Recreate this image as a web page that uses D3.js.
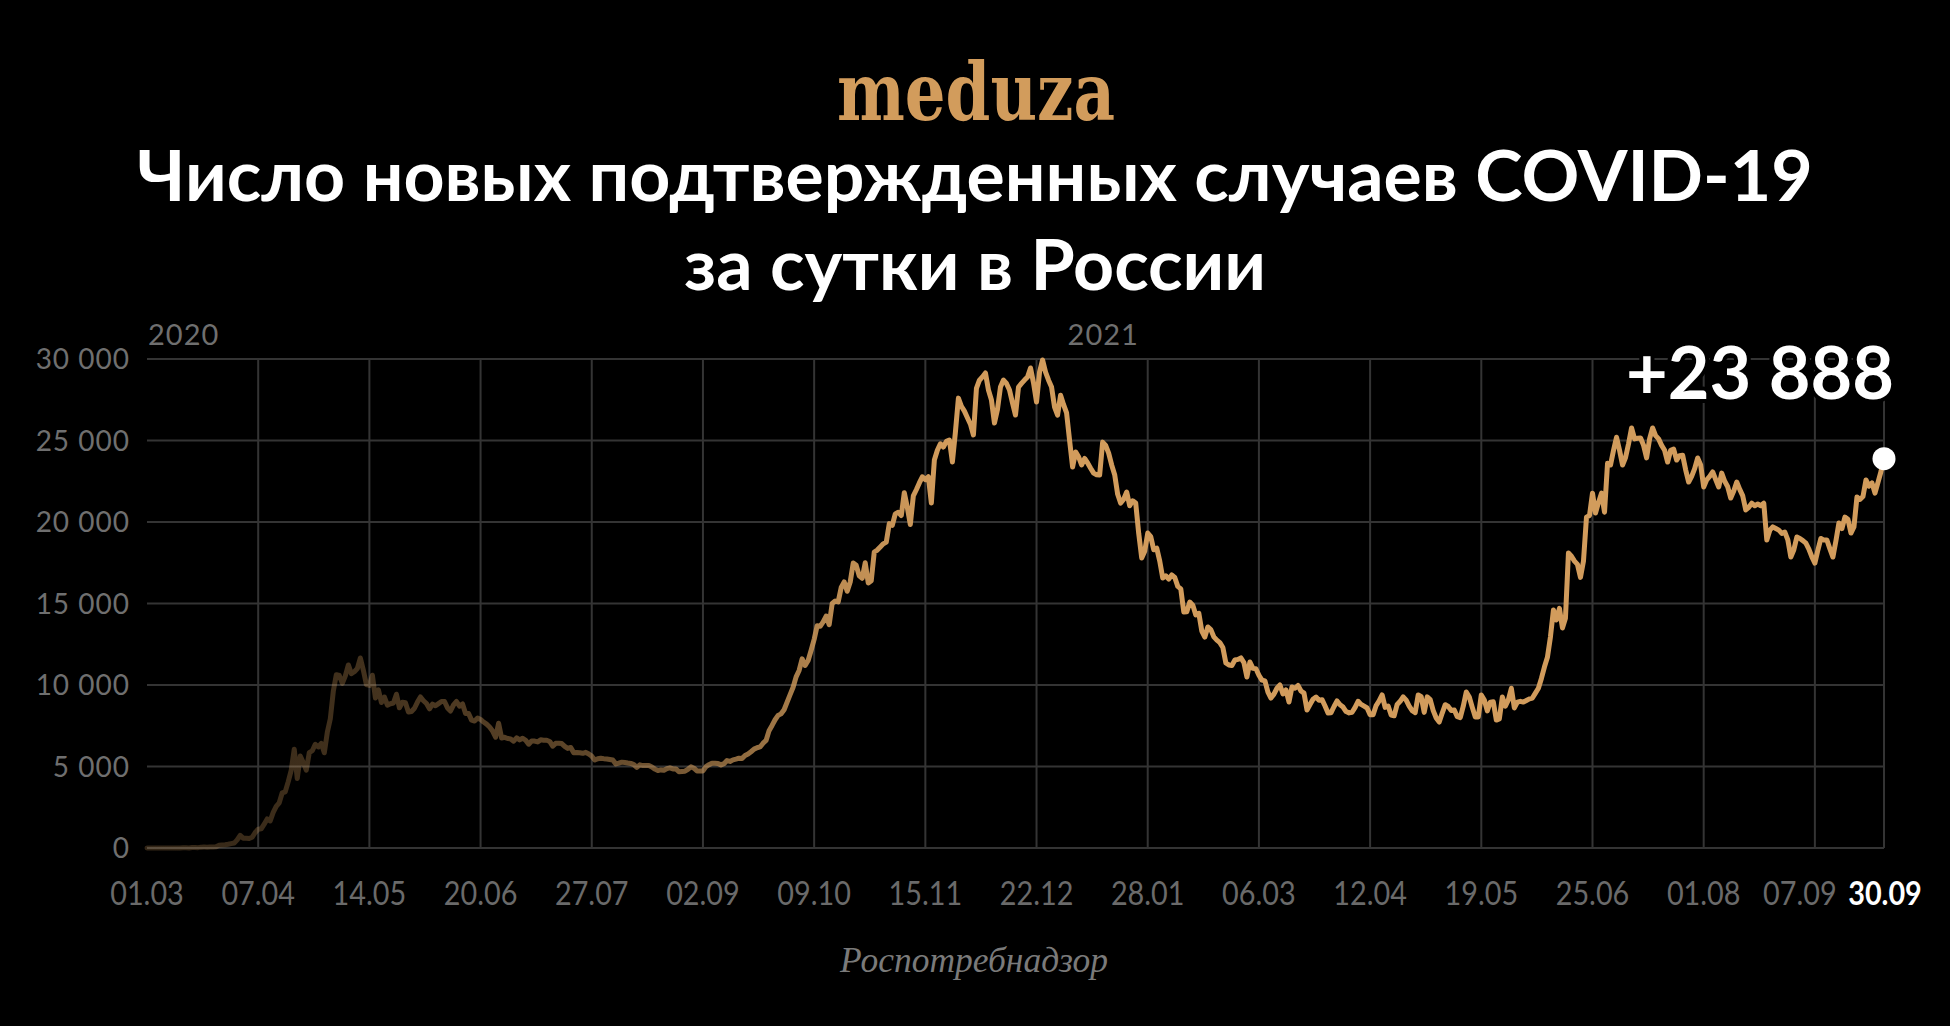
<!DOCTYPE html>
<html><head><meta charset="utf-8">
<script src="https://cdn.jsdelivr.net/npm/d3@7"></script>
<style>html,body{margin:0;padding:0;background:#000;}svg{display:block}</style>
</head><body>
<svg id="chart" width="1950" height="1026"></svg>
<script>
// ---- data: daily new confirmed cases, from 2020-03-01 to 2021-09-30 ----
const startDate = "2020-03-01";
const endDate = "2021-09-30";
const mar2020 = [0,1,0,0,1,3,0,4,3,0,3,6,17,14,4,30,30,21,52,54,53,67,57,71,163,182,196,228,270,302,501];
const apr2020 = [771,601,601,582,658,954,1154,1175,1459,1786,1667,2186,2558,2774,3388,3448,4070,4785,6060,4268,5642,5236,4774,5849,5966,6361,6198,6411,5841,7099];
const may2020 = [7933,9623,10633,10581,10102,10559,11231,10699,10817,11012,11656,10899,10028,9974,10598,9200,9709,8926,9263,8764,8849,8894,9434,8599,8946,8915,8338,8371,8572,8952,9268];
const jun2020 = [9035,8863,8536,8831,8726,8855,8984,8985,8595,8404,8779,8987,8706,8835,8246,8248,7843,7790,7972,7889,7728,7600,7425,7176,6800,7650,6750,6791,6719,6693];
const jul2020 = [6556,6760,6632,6736,6611,6368,6562,6562,6509,6635,6615,6611,6537,6248,6422,6428,6406,6234,6109,6170,5842,5862,5848,5811,5871,5765,5635,5395,5475,5509,5482];
const aug2020 = [5462,5427,5394,5159,5204,5267,5241,5212,5189,5118,4945,5102,5057,5065,5061,4969,4839,4748,4790,4767,4870,4921,4852,4852,4676,4696,4711,4829,4980,4897,4729];
const sep2020 = [4730,4730,4995,5110,5205,5195,5185,5099,5172,5363,5310,5406,5449,5509,5488,5670,5762,5905,6065,6150,6200,6430,6600,7200,7520,7870,8135,8230,8480,8950];
const oct2020 = [9410,9860,10500,10890,11600,11200,11500,12130,12800,13630,13600,13870,14230,13700,15000,15150,15100,15980,16320,15750,16320,17480,17340,16700,16550,17500,16260,16400,18160,18280,18470];
const nov2020 = [18660,18770,19900,19800,20500,20600,20400,21800,20900,19850,21600,21980,22400,22770,22600,22780,21160,23800,24400,24800,24600,24950,25030,23680,25500,27600,27100,26800,26400,26000];
const dec2020 = [25340,28200,28700,28900,29140,28100,27480,26070,26900,28280,28710,28500,28100,27300,26560,28280,28500,28710,28900,29450,28530,27360,29200,29940,29200,28700,28280,27050,26560,27780,27200];
const jan2021 = [26690,25000,23370,24300,24000,23500,23900,23620,23300,23000,22900,22880,24900,24700,24230,23500,22900,21700,21160,21400,21840,21000,21300,21160,19300,17790,18200,19320,19100,18300,18400];
const feb2021 = [17600,16560,16700,16500,16750,16600,16050,15900,14480,14500,15090,14900,14300,14400,13300,12940,13560,13400,12950,12750,12600,12300,11350,11230,11200,11530,11570,11660];
const mar2021 = [11380,10490,11410,11020,11000,10600,10300,10250,9560,9200,9440,9800,10000,9450,9700,8960,9880,9800,9970,9630,9500,8470,8800,9130,9260,9070,9100,8710,8280,8300,8680];
const apr2021 = [9020,8790,8650,8370,8290,8330,8630,9000,8810,8700,8590,8170,8170,8740,9020,9390,8630,8710,8160,8110,8810,9000,9270,9070,8710,8430,8310,9390,9280,8320];
const may2021 = [9270,9100,8430,7975,7730,8280,8790,8680,8440,8470,8060,8000,8700,9570,9260,8630,8040,8040,9390,9080,8410,8950,8970,7850,7920,9260,8700,9090,9800,8590,8950];
const jun2021 = [9000,8950,9050,9150,9200,9500,9800,10400,11100,11700,12940,14600,13990,14700,13500,14100,18100,17900,17600,17400,16600,17600,20300,20400,21770,20550,21200,21770,20600,23600];
const jul2021 = [23500,24400,25200,24400,23500,23960,24800,25770,25100,25140,25150,24700,23930,25100,25770,25300,25100,24700,24400,23680,24400,24470,23800,24070,24100,23200,22450,22800,23270,23930,23500];
const aug2021 = [22150,22590,22800,23070,22600,22150,23000,22500,22160,21470,21900,22450,22000,21600,20740,20900,21150,21000,21100,21000,21150,18900,19500,19700,19600,19500,19300,19380,18900,17850,18300];
const sep2021 = [19080,18990,18860,18700,18340,17860,17480,18280,18990,18890,18900,18350,17850,18840,19940,19600,20300,20170,19320,19700,21530,21380,21560,22580,22200,22400,21770,22430,23100,23888];

const yTicks = [0, 5000, 10000, 15000, 20000, 25000, 30000];
const xTickDates = ["2020-03-01","2020-04-07","2020-05-14","2020-06-20","2020-07-27","2020-09-02","2020-10-09","2020-11-15","2020-12-22","2021-01-28","2021-03-06","2021-04-12","2021-05-19","2021-06-25","2021-08-01","2021-09-07"];
const yearLabels = ["2020", "2021"];
const yearDates = ["2020-03-01", "2021-01-01"];
const titleLines = ["Число новых подтвержденных случаев COVID-19", "за сутки в России"];
const logoText = "meduza";
const sourceText = "Роспотребнадзор";

// ---- build ----
const parse = d3.utcParse("%Y-%m-%d");
const fmt = d3.utcFormat("%d.%m");
const values = [].concat(mar2020, apr2020, may2020, jun2020, jul2020, aug2020, sep2020, oct2020, nov2020, dec2020,
  jan2021, feb2021, mar2021, apr2021, may2021, jun2021, jul2021, aug2021, sep2021);
const t0 = parse(startDate);
const series = values.map((v, i) => ({date: d3.utcDay.offset(t0, i), value: v}));
const last = series[series.length - 1];

const svg = d3.select("#chart");
const W = 1950, H = 1026;
svg.append("rect").attr("width", W).attr("height", H).attr("fill", "#000");

const x = d3.scaleUtc().domain([parse(startDate), parse(endDate)]).range([147, 1884]);
const y = d3.scaleLinear().domain([0, 30000]).range([848, 359]);

const GOLD = "#d29c5c";
const GRID = "#343434";
const SANS = "Lato, 'Open Sans', sans-serif";

function fit(sel, w) {
  const cur = sel.node().getComputedTextLength();
  const fs = parseFloat(sel.attr("font-size"));
  sel.attr("font-size", fs * w / cur);
  return fs * w / cur;
}

function draw() {
  // logo
  svg.append("text").attr("x", 976).attr("y", 120).attr("text-anchor", "middle")
    .attr("font-family", "'DejaVu Serif', serif").attr("font-weight", 700)
    .attr("font-size", 80).attr("fill", GOLD)
    .attr("textLength", 278).attr("lengthAdjust", "spacingAndGlyphs")
    .text(logoText);

  // title
  const t1 = svg.append("text").attr("x", 975).attr("y", 201).attr("text-anchor", "middle")
    .attr("font-family", SANS).attr("font-weight", 700).attr("font-size", 66).attr("fill", "#fff")
    .text(titleLines[0]);
  const fs = fit(t1, 1676);
  svg.append("text").attr("x", 975).attr("y", 290).attr("text-anchor", "middle")
    .attr("font-family", SANS).attr("font-weight", 700).attr("font-size", fs).attr("fill", "#fff")
    .text(titleLines[1]);

  // grid
  const g = svg.append("g");
  g.selectAll("line.h").data(yTicks).join("line").attr("class", "h")
    .attr("x1", x.range()[0]).attr("x2", x.range()[1])
    .attr("y1", d => y(d)).attr("y2", d => y(d))
    .attr("stroke", GRID).attr("stroke-width", 2);
  const vDates = xTickDates.slice(1).map(parse).concat([parse(endDate)]);
  g.selectAll("line.v").data(vDates).join("line").attr("class", "v")
    .attr("x1", d => x(d)).attr("x2", d => x(d))
    .attr("y1", y(30000)).attr("y2", y(0))
    .attr("stroke", GRID).attr("stroke-width", 2);

  // y labels
  svg.append("g").selectAll("text").data(yTicks).join("text")
    .attr("x", 130).attr("y", d => y(d)).attr("dy", "0.36em").attr("text-anchor", "end")
    .attr("font-family", SANS).attr("font-size", 28).attr("letter-spacing", 1).attr("fill", "#6f6f6f")
    .text(d => d3.format(",")(d).replace(/,/g, " "));

  // x labels (condensed); the label before the last one is nudged left to avoid overlap
  const xl = svg.append("g");
  const xDates = xTickDates.map(parse);
  const nLab = xDates.length;
  xl.selectAll("text").data(xDates).join("text")
    .attr("transform", (d, i) => `translate(${x(d) + (i === nLab - 1 ? -15 : 0)},905) scale(0.9,1)`)
    .attr("text-anchor", "middle")
    .attr("font-family", SANS).attr("font-size", 32)
    .attr("fill", "#6a6a6a")
    .text(d => fmt(d));
  xl.append("text").attr("transform", `translate(${x(parse(endDate)) + 1},905) scale(0.9,1)`)
    .attr("text-anchor", "middle")
    .attr("font-family", SANS).attr("font-weight", 700).attr("font-size", 32)
    .attr("fill", "#fff").text(fmt(parse(endDate)));

  // year labels
  svg.append("g").selectAll("text").data(yearLabels).join("text")
    .attr("x", (d, i) => x(parse(yearDates[i])) + 1).attr("y", 345)
    .attr("font-family", SANS).attr("font-size", 29).attr("letter-spacing", 1).attr("fill", "#6f6f6f")
    .text(d => d);

  // gradient
  const [gx0, gx1] = x.range();
  const grad = svg.append("defs").append("linearGradient").attr("id", "lineGrad")
    .attr("gradientUnits", "userSpaceOnUse").attr("x1", gx0).attr("x2", gx1).attr("y1", 0).attr("y2", 0);
  [[0, 0.24], [0.13, 0.32], [0.25, 0.45], [0.32, 0.6], [0.36, 0.75], [0.40, 0.9], [0.46, 1], [1, 1]]
    .forEach(([o, a]) => grad.append("stop").attr("offset", o).attr("stop-color", GOLD).attr("stop-opacity", a));

  const line = d3.line().x(d => x(d.date)).y(d => y(d.value)).curve(d3.curveLinear);
  svg.append("path").datum(series).attr("d", line)
    .attr("fill", "none").attr("stroke", "url(#lineGrad)").attr("stroke-width", 5)
    .attr("stroke-linejoin", "round").attr("stroke-linecap", "round");

  // end marker
  svg.append("circle").attr("cx", x(last.date)).attr("cy", y(last.value)).attr("r", 11.5).attr("fill", "#fff");
  const lbl = svg.append("text").attr("x", 1894).attr("y", 399).attr("text-anchor", "end")
    .attr("font-family", SANS).attr("font-weight", 700).attr("font-size", 72).attr("fill", "#fff")
    .text("+" + d3.format(",")(last.value).replace(/,/g, " "));
  fit(lbl, 268);
  lbl.attr("stroke", "#000").attr("stroke-width", 8).attr("paint-order", "stroke");

  // source
  const s = svg.append("text").attr("x", 974).attr("y", 972).attr("text-anchor", "middle")
    .attr("font-family", "'Liberation Serif', serif").attr("font-style", "italic").attr("font-size", 36)
    .attr("fill", "#7a7a7a").text(sourceText);
  fit(s, 268);
}
if (document.fonts && document.fonts.ready) document.fonts.ready.then(draw); else draw();
</script>
</body></html>
